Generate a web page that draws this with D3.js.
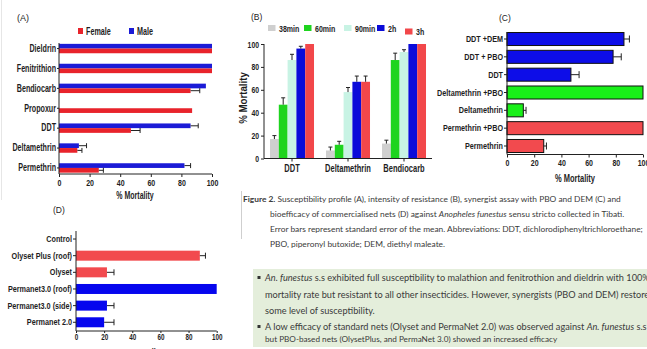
<!DOCTYPE html>
<html><head><meta charset="utf-8">
<script src="https://cdn.jsdelivr.net/npm/d3@7"></script>
<style>
html,body{margin:0;padding:0;background:#fff;}
svg{display:block;}
.lbl{font-family:"Liberation Sans",Arial,sans-serif;font-weight:bold;fill:#1e1e1e;}
.plain{font-family:"Liberation Sans",Arial,sans-serif;fill:#222;}
.cap{font-family:Lato,"Open Sans",sans-serif;fill:#3a3a3a;}
</style></head><body>
<svg id="fig" width="647" height="349"></svg>
<script>
// ---- Panel A: susceptibility profile, % mortality by sex ----
const catsA = ["Dieldrin","Fenitrithion","Bendiocarb","Propoxur","DDT","Deltamethrin","Permethrin"];
const maleA = [100,100,96,null,86,13,82];
const maleErrA = [0,0,0,0,5,5,4];
const femaleA = [100,100,86,87,47,12,26];
const femaleErrA = [0,0,6,0,6,3,3];
const sexLegend = ["Female","Male"];

// ---- Panel B: intensity of resistance over exposure time ----
const groupsB = ["DDT","Deltamethrin","Bendiocarb"];
const timesB = ["38min","60min","90min","2h","3h"];
const valuesB = [[17,47,86,96,100],[7,12,58,67,67],[13,86,93,100,100]];
const errB = [[3,6,5,2,0],[3,3,4,5,5],[3,6,2,0,0]];

// ---- Panel C: synergist assays ----
const catsC = ["DDT +DEM","DDT + PBO","DDT","Deltamethrin +PBO","Deltamethrin","Permethrin +PBO","Permethrin"];
const valuesC = [86,78,47,100,12,100,27];
const errC = [4,6,6,0,2,0,2];
const familyC = ["ddt","ddt","ddt","delta","delta","perm","perm"];

// ---- Panel D: bioefficacy of nets ----
const catsD = ["Control","Olyset Plus (roof)","Olyset","Permanet3.0 (roof)","Permanet3.0 (side)","Permanet 2.0"];
const valuesD = [0,88,22,100,22,20];
const errD = [0,4,5,0,5,7];
const familyD = ["none","olyset","olyset","permanet","permanet","permanet"];

const ticks100 = [0,20,40,60,80,100];

const svg = d3.select("#fig");
svg.append("rect").attr("width",647).attr("height",349).attr("fill","#fff");
svg.append("line").attr("x1",1.5).attr("x2",1.5).attr("y1",0).attr("y2",200)
   .attr("stroke","#e6e6e6").attr("stroke-width",1);

// Labels are set in a condensed bold face; "sq" is the horizontal squeeze applied later.
function lbl(g, x, y, size, sq, text, anchor){
  return g.append("text").attr("class","lbl").attr("x",x).attr("y",y).attr("data-sq",sq)
    .attr("text-anchor",anchor||"start").style("font-size",size+"px").text(text);
}
function styleAxis(g, size, sq){
  g.attr("font-family",null).attr("font-size",null);
  g.selectAll("text").attr("class","lbl").attr("data-sq",sq).style("font-size",size+"px").attr("fill","#1e1e1e");
  g.selectAll("line").attr("stroke","#222");
  g.selectAll(".domain").remove();
}
function hErr(g, rows, x, capH){
  g.selectAll(null).data(rows.filter(d=>d.e>0)).join("path")
    .attr("d", d=>`M${x(d.v)},${d.cy}H${x(d.v+d.e)}M${x(d.v+d.e)},${d.cy-capH/2}V${d.cy+capH/2}`)
    .attr("stroke","#222").attr("stroke-width",1).attr("fill","none");
}

// ================= Panel A =================
{
  const RED="#e8232b", BLUE="#1b1bd6";
  const x = d3.scaleLinear().domain([0,100]).range([59,212]);
  const y = d3.scaleBand().domain(catsA).range([38.6,177.9]);
  const g = svg.append("g");
  const bh = 4.7;
  const rows = catsA.map((c,i)=>({c, cy:y(c)+y.bandwidth()/2, m:maleA[i], me:maleErrA[i], f:femaleA[i], fe:femaleErrA[i]}));
  g.selectAll(null).data(rows.filter(d=>d.m!=null)).join("rect")
    .attr("x",x(0)).attr("y",d=>d.cy-bh).attr("width",d=>x(d.m)-x(0)).attr("height",bh).attr("fill",BLUE);
  g.selectAll(null).data(rows).join("rect")
    .attr("x",x(0)).attr("y",d=>d.cy).attr("width",d=>x(d.f)-x(0)).attr("height",bh).attr("fill",RED);
  hErr(g, rows.filter(d=>d.m!=null).map(d=>({v:d.m,e:d.me,cy:d.cy-bh/2})), x, 5);
  hErr(g, rows.map(d=>({v:d.f,e:d.fe,cy:d.cy+bh/2})), x, 5);

  const ay = g.append("g").attr("transform",`translate(${x(0)},0)`).call(d3.axisLeft(y).tickSize(2).tickPadding(1));
  styleAxis(ay, 10.2, 0.7);
  g.append("line").attr("x1",x(0)).attr("x2",x(0)).attr("y1",43).attr("y2",174).attr("stroke","#222");
  const ax = g.append("g").attr("transform","translate(0,174)").call(d3.axisBottom(x).tickValues(ticks100).tickSize(3).tickPadding(2));
  styleAxis(ax, 9.5, 0.74);
  g.append("line").attr("x1",x(0)).attr("x2",x(100)).attr("y1",174).attr("y2",174).attr("stroke","#222");
  lbl(g, 135, 198.5, 10, 0.7, "% Mortality", "middle");
  g.append("text").attr("class","plain").attr("x",17).attr("y",20.5).style("font-size","9px").text("(A)");
  // legend
  const lx = [78,129], cols=[RED,BLUE];
  sexLegend.forEach((s,i)=>{
    g.append("rect").attr("x",lx[i]).attr("y",28).attr("width",5).attr("height",6).attr("fill",cols[i]);
    lbl(g, lx[i]+8, 34.5, 10, 0.72, s);
  });
}

// ================= Panel B =================
{
  const cols = ["#cfcfcf","#1ed41e","#c8f3e4","#0b0bd9","#f2474a"];
  const y = d3.scaleLinear().domain([0,100]).range([158.5,44]);
  const x0 = d3.scaleBand().domain(groupsB).range([264,432]).paddingInner(0.214).paddingOuter(0.107);
  const x1 = d3.scaleBand().domain(timesB).range([0,x0.bandwidth()]);
  const g = svg.append("g");
  const rows = [];
  groupsB.forEach((gr,i)=>timesB.forEach((t,j)=>rows.push({gr,t,j,v:valuesB[i][j],e:errB[i][j]})));
  g.selectAll(null).data(rows).join("rect")
    .attr("x",d=>x0(d.gr)+x1(d.t)).attr("y",d=>y(d.v)).attr("width",x1.bandwidth()).attr("height",d=>y(0)-y(d.v))
    .attr("fill",d=>cols[d.j]);
  g.selectAll(null).data(rows.filter(d=>d.e>0)).join("path")
    .attr("d",d=>{const cx=x0(d.gr)+x1(d.t)+x1.bandwidth()/2; return `M${cx},${y(d.v)}V${y(d.v+d.e)}M${cx-2},${y(d.v+d.e)}H${cx+2}`;})
    .attr("stroke","#222").attr("fill","none");
  const ay = g.append("g").attr("transform","translate(264,0)").call(d3.axisLeft(y).tickValues(ticks100).tickSize(3).tickPadding(2));
  styleAxis(ay, 9.5, 0.72);
  g.append("line").attr("x1",264).attr("x2",264).attr("y1",44).attr("y2",158.5).attr("stroke","#222");
  const ax = g.append("g").attr("transform","translate(0,158.5)").call(d3.axisBottom(x0).tickSize(3).tickPadding(3));
  styleAxis(ax, 10, 0.75);
  g.append("line").attr("x1",264).attr("x2",432).attr("y1",158.5).attr("y2",158.5).attr("stroke","#222");
  lbl(g, 0, 0, 11, 0.88, "% Mortality", "middle").attr("transform","translate(246.5,98) rotate(-90)");
  g.append("text").attr("class","plain").attr("x",251).attr("y",19.5).style("font-size","8.5px").text("(B)");
  const lx=[268,304,344,377,405], ly=[25,25,25,25,28.5];
  timesB.forEach((t,j)=>{
    g.append("rect").attr("x",lx[j]).attr("y",ly[j]).attr("width",7.5).attr("height",6).attr("fill",cols[j]);
    lbl(g, lx[j]+11, ly[j]+6.5, 9.5, 0.74, t);
  });
}

// ================= Panel C =================
{
  const colMap = {ddt:"#0d0de8", delta:"#19f019", perm:"#f24a4e"};
  const x = d3.scaleLinear().domain([0,100]).range([507,643]);
  const y = d3.scaleBand().domain(catsC).range([30.1,154.9]).paddingInner(0.27).paddingOuter(0.135);
  const g = svg.append("g");
  const rows = catsC.map((c,i)=>({c,v:valuesC[i],e:errC[i],f:familyC[i],cy:y(c)+y.bandwidth()/2}));
  g.selectAll(null).data(rows).join("rect")
    .attr("x",x(0)).attr("y",d=>y(d.c)).attr("width",d=>x(d.v)-x(0)).attr("height",y.bandwidth())
    .attr("fill",d=>colMap[d.f]).attr("stroke","#111").attr("stroke-width",1);
  hErr(g, rows, x, 7);
  const ay = g.append("g").attr("transform",`translate(${x(0)},0)`).call(d3.axisLeft(y).tickSize(3).tickPadding(1));
  styleAxis(ay, 9.5, 0.76);
  g.append("line").attr("x1",x(0)).attr("x2",x(0)).attr("y1",32).attr("y2",154.5).attr("stroke","#222");
  const ax = g.append("g").attr("transform","translate(0,154.5)").call(d3.axisBottom(x).tickValues(ticks100).tickSize(3).tickPadding(2));
  styleAxis(ax, 9.5, 0.74);
  g.append("line").attr("x1",x(0)).attr("x2",x(100)).attr("y1",154.5).attr("y2",154.5).attr("stroke","#222");
  lbl(g, 575, 182, 10, 0.75, "% Mortality", "middle");
  g.append("text").attr("class","plain").attr("x",499).attr("y",21).style("font-size","8.5px").text("(C)");
}

// ================= Panel D =================
{
  const colMap = {none:"#fff", olyset:"#f24a4e", permanet:"#0606ee"};
  const x = d3.scaleLinear().domain([0,100]).range([76,216.7]);
  const y = d3.scaleBand().domain(catsD).range([230.7,330.6]).paddingInner(0.4).paddingOuter(0.2);
  const g = svg.append("g");
  const rows = catsD.map((c,i)=>({c,v:valuesD[i],e:errD[i],f:familyD[i],cy:y(c)+y.bandwidth()/2}));
  g.selectAll(null).data(rows.filter(d=>d.v>0)).join("rect")
    .attr("x",x(0)).attr("y",d=>y(d.c)).attr("width",d=>x(d.v)-x(0)).attr("height",y.bandwidth())
    .attr("fill",d=>colMap[d.f]);
  hErr(g, rows, x, 6);
  const ay = g.append("g").attr("transform",`translate(${x(0)},0)`).call(d3.axisLeft(y).tickSize(3).tickPadding(1));
  styleAxis(ay, 9.3, 0.78);
  g.append("line").attr("x1",x(0)).attr("x2",x(0)).attr("y1",231).attr("y2",331).attr("stroke","#222");
  const ax = g.append("g").attr("transform","translate(0,331)").call(d3.axisBottom(x).tickValues(ticks100).tickSize(2).tickPadding(1));
  styleAxis(ax, 8.5, 0.74);
  g.append("line").attr("x1",x(0)).attr("x2",x(100)).attr("y1",331).attr("y2",331).attr("stroke","#222");
  lbl(g, 143, 354.5, 9.5, 0.75, "% Mortality", "middle");
  g.append("text").attr("class","plain").attr("x",53).attr("y",212.5).style("font-size","8.5px").text("(D)");
}

// Squeeze the bold labels horizontally to a condensed width.
svg.selectAll("text.lbl").each(function(){
  const w = this.getComputedTextLength();
  const sq = +this.getAttribute("data-sq") || 0.75;
  if (w > 0) d3.select(this).attr("textLength", (w*sq).toFixed(2)).attr("lengthAdjust","spacingAndGlyphs");
});

// Lay out a text block at one font size, chosen so that line `ref` spans `refW` pixels.
function textBlock(lines, xs, ys, ref, refW, cls, startSize, fill){
  let size = startSize;
  const texts = lines.map((segs,k)=>{
    const t = svg.append("text").attr("class",cls).attr("x",xs[k]).attr("y",ys[k]).style("font-size",size+"px");
    if (fill) t.attr("fill",fill);
    segs.forEach(s=>t.append("tspan").text(s.t).style("font-weight",s.b?"bold":null).style("font-style",s.i?"italic":null));
    return t;
  });
  for (let it=0; it<3; it++){
    size = size*refW/texts[ref].node().getComputedTextLength();
    texts.forEach(t=>t.style("font-size",size+"px"));
  }
}

// ================= Caption =================
const captionLines = [
  [{t:"Figure 2.",b:true},{t:" Susceptibility profile (A),  intensity of resistance (B), synergist assay with PBO and DEM (C) and"}],
  [{t:"bioefficacy of commercialised nets (D) against "},{t:"Anopheles funestus",i:true},{t:" sensu stricto collected in Tibati."}],
  [{t:"Error bars represent standard error of the mean. Abbreviations: DDT, dichlorodiphenyltrichloroethane;"}],
  [{t:"PBO, piperonyl butoxide; DEM, diethyl maleate."}]
];
svg.append("line").attr("x1",241.5).attr("x2",241.5).attr("y1",191).attr("y2",239).attr("stroke","#cfcfcf");
textBlock(captionLines, [243,270,270,270], [201.5,216.5,231.5,246.5], 2, 373, "cap", 6.5);

// ================= Key findings box =================
const findings = [
  [{t:"An. funestus",i:true},{t:" s.s exhibited full susceptibility to malathion and fenitrothion and dieldrin with 100%"}],
  [{t:"mortality rate but resistant to all other insecticides. However, synergists (PBO and DEM) restored"}],
  [{t:"some level of susceptibility."}],
  [{t:" A low efficacy of standard nets (Olyset and PermaNet 2.0) was observed against "},{t:"An. funestus",i:true},{t:" s.s"}]
];
const findY=[281,298,313.5,330], bulletRows=[0,3];
svg.append("rect").attr("x",253).attr("y",269).attr("width",394).attr("height",78).attr("fill","#e4eedb");
bulletRows.forEach(k=>svg.append("rect").attr("x",257.5).attr("y",findY[k]-5).attr("width",3).attr("height",3).attr("fill","#333"));
textBlock(findings, [265,265,265,265], findY, 1, 389, "cap", 9, "#2a2a2a");
// closing line of the second point, set a little smaller
textBlock([[{t:"but PBO-based nets (OlysetPlus, and PermaNet 3.0) showed an increased efficacy"}]],
  [265], [341.5], 0, 292, "cap", 8, "#2a2a2a");
</script>
</body></html>
